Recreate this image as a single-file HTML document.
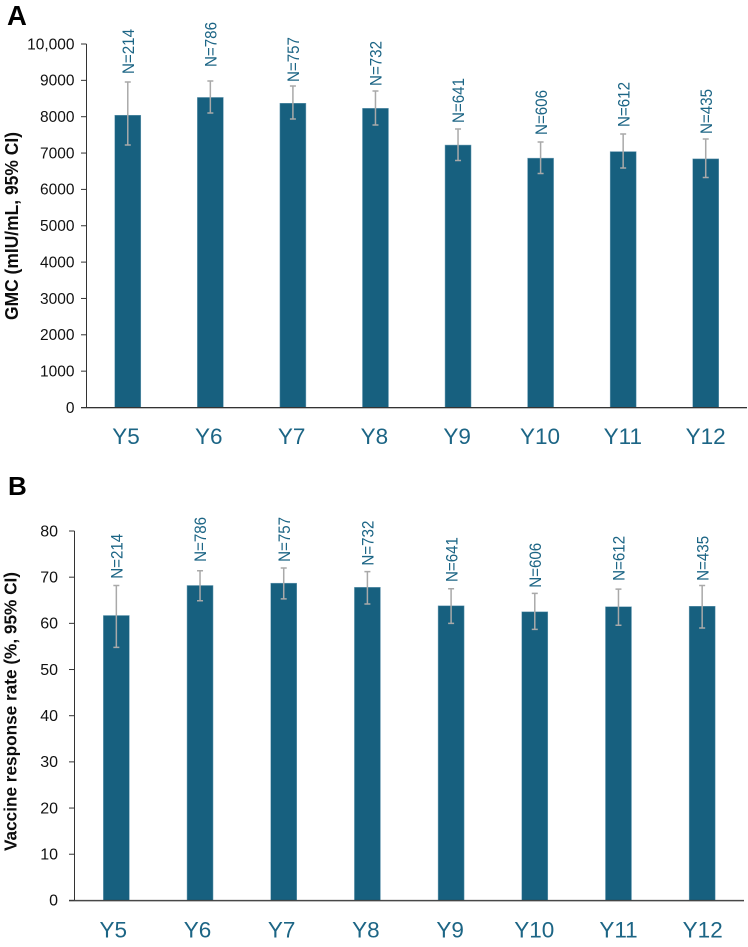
<!DOCTYPE html>
<html lang="en">
<head>
<meta charset="utf-8">
<title>GMC and vaccine response rate by year</title>
<style>
html,body{margin:0;padding:0;background:#fff;}
svg{display:block;font-family:"Liberation Sans",sans-serif;}
</style>
</head>
<body>
<svg id="figure" width="748" height="947" viewBox="0 0 748 947" xmlns="http://www.w3.org/2000/svg"></svg>
<script>
const categories = ['Y5','Y6','Y7','Y8','Y9','Y10','Y11','Y12'];
const sampleSizes = ['N=214','N=786','N=757','N=732','N=641','N=606','N=612','N=435'];

const gmcValues = [8040,8530,8370,8230,7220,6860,7040,6840];
const gmcUpper = [8955,8982,8844,8707,7662,7304,7524,7386];
const gmcLower = [7221,8102,7937,7772,6795,6437,6589,6327];
const gmcLabelLift = [220,385,110,138,165,193,193,138];
const gmcTicks = [0,1000,2000,3000,4000,5000,6000,7000,8000,9000,10000];
const gmcTickLabels = ['0','1000','2000','3000','4000','5000','6000','7000','8000','9000','10,000'];

const rateValues = [61.7,68.2,68.7,67.8,63.8,62.5,63.6,63.7];
const rateUpper = [68.2,71.4,72.0,71.2,67.5,66.5,67.4,68.2];
const rateLower = [54.8,64.9,65.3,64.2,60.0,58.7,59.6,59.0];
const rateLabelLift = [1.45,1.9,1.3,1.3,1.45,1.2,1.8,1.0];
const rateTicks = [0,10,20,30,40,50,60,70,80];
const rateTickLabels = ['0','10','20','30','40','50','60','70','80'];

const svgNS = 'http://www.w3.org/2000/svg';
const figure = document.getElementById('figure');

function make(tag, attrs, text) {
  const el = document.createElementNS(svgNS, tag);
  for (const k in attrs) el.setAttribute(k, attrs[k]);
  if (text !== undefined) el.textContent = text;
  figure.appendChild(el);
  return el;
}

function drawPanel(cfg) {
  const yOf = v => cfg.y0 - (v - cfg.min) / (cfg.max - cfg.min) * (cfg.y0 - cfg.yTop);
  const step = (cfg.xEnd - cfg.xAxis) / categories.length;
  const xOf = i => cfg.xAxis + step * (i + 0.5);
  let el;

  el = make('text', {x: cfg.letterX, y: cfg.letterY, 'font-size': cfg.letterSize, 'font-weight': 'bold', fill: '#000'}, cfg.letter);
  
  

  el = make('text', {
    x: 0, y: 0,
    transform: 'translate(' + cfg.titleX + ',' + cfg.titleY + ') rotate(-90)',
    'text-anchor': 'middle', 'font-size': cfg.titleSize, 'font-weight': 'bold', fill: '#0d0d0d',
    textLength: cfg.titleLength, lengthAdjust: 'spacingAndGlyphs'
  }, cfg.title);
  
  

  categories.forEach((c, i) => {
    const cx = xOf(i);
    const top = yOf(cfg.values[i]);
    let m;

    m = make('rect', {x: cx - 13, y: top, width: 26, height: cfg.y0 - top, fill: '#17607f', stroke: '#6f9fb6', 'stroke-width': 0.5});
    
    

    const hi = yOf(cfg.upper[i]);
    const lo = yOf(cfg.lower[i]);
    m = make('path', {
      d: 'M' + cx + ' ' + hi + 'V' + lo + 'M' + (cx - 3) + ' ' + hi + 'H' + (cx + 3) + 'M' + (cx - 3) + ' ' + lo + 'H' + (cx + 3),
      fill: 'none', stroke: '#a9a9a9', 'stroke-width': 1.5
    });
    
    

    const ly = yOf(cfg.upper[i] + cfg.lift[i]);
    m = make('text', {
      x: 0, y: 0,
      transform: 'translate(' + (cx + 6.2) + ',' + ly + ') rotate(-90)',
      'font-size': 16.5, fill: '#1c6585',
      textLength: 45, lengthAdjust: 'spacingAndGlyphs'
    }, sampleSizes[i]);
    
    

    m = make('text', {x: cfg.catStart + cfg.catStep * i, y: cfg.catY, 'text-anchor': 'middle', 'font-size': 22.5, fill: '#1c6585'}, c);
    
    
  });

  cfg.ticks.forEach((t, i) => {
    const ty = yOf(t);
    let m;
    m = make('line', {x1: cfg.xAxis - 5.5, x2: cfg.xAxis, y1: ty, y2: ty, stroke: '#333', 'stroke-width': 1});
    
    

    m = make('text', {x: cfg.xAxis - cfg.tickPad, y: ty + 5.3, 'text-anchor': 'end', 'font-size': cfg.tickSize, fill: '#111'}, cfg.tickLabels[i]);
    
    
  });

  el = make('line', {x1: cfg.xAxis, x2: cfg.xAxis, y1: cfg.yTop, y2: cfg.y0, stroke: '#333', 'stroke-width': 1});
  
  

  el = make('line', {x1: cfg.xAxis - 5.5, x2: cfg.xEnd, y1: cfg.y0 + 0.8, y2: cfg.y0 + 0.8, stroke: '#a8a8a8', 'stroke-width': 1});
  
  

  el = make('line', {x1: cfg.xAxis - 5.5, x2: cfg.xEnd, y1: cfg.y0, y2: cfg.y0, stroke: '#333', 'stroke-width': 1});
  
  
}

drawPanel({
  letter: 'A', letterX: 7, letterY: 25, letterSize: 27.5,
  title: 'GMC (mIU/mL, 95% CI)', titleX: 18, titleY: 226, titleSize: 18, titleLength: 188,
  values: gmcValues, upper: gmcUpper, lower: gmcLower, lift: gmcLabelLift,
  ticks: gmcTicks, tickLabels: gmcTickLabels, tickSize: 15.5, tickPad: 12,
  min: 0, max: 10000, y0: 407.5, yTop: 44, xAxis: 86.5, xEnd: 747,
  catStart: 126, catStep: 82.8, catY: 444
});

drawPanel({
  letter: 'B', letterX: 8, letterY: 495, letterSize: 26,
  title: 'Vaccine response rate (%, 95% CI)', titleX: 16.7, titleY: 711.5, titleSize: 17.5, titleLength: 279,
  values: rateValues, upper: rateUpper, lower: rateLower, lift: rateLabelLift,
  ticks: rateTicks, tickLabels: rateTickLabels, tickSize: 16, tickPad: 16.5,
  min: 0, max: 80, y0: 900.4, yTop: 531, xAxis: 74.5, xEnd: 744,
  catStart: 113.3, catStep: 84.2, catY: 937.5
});
</script>
</body>
</html>
